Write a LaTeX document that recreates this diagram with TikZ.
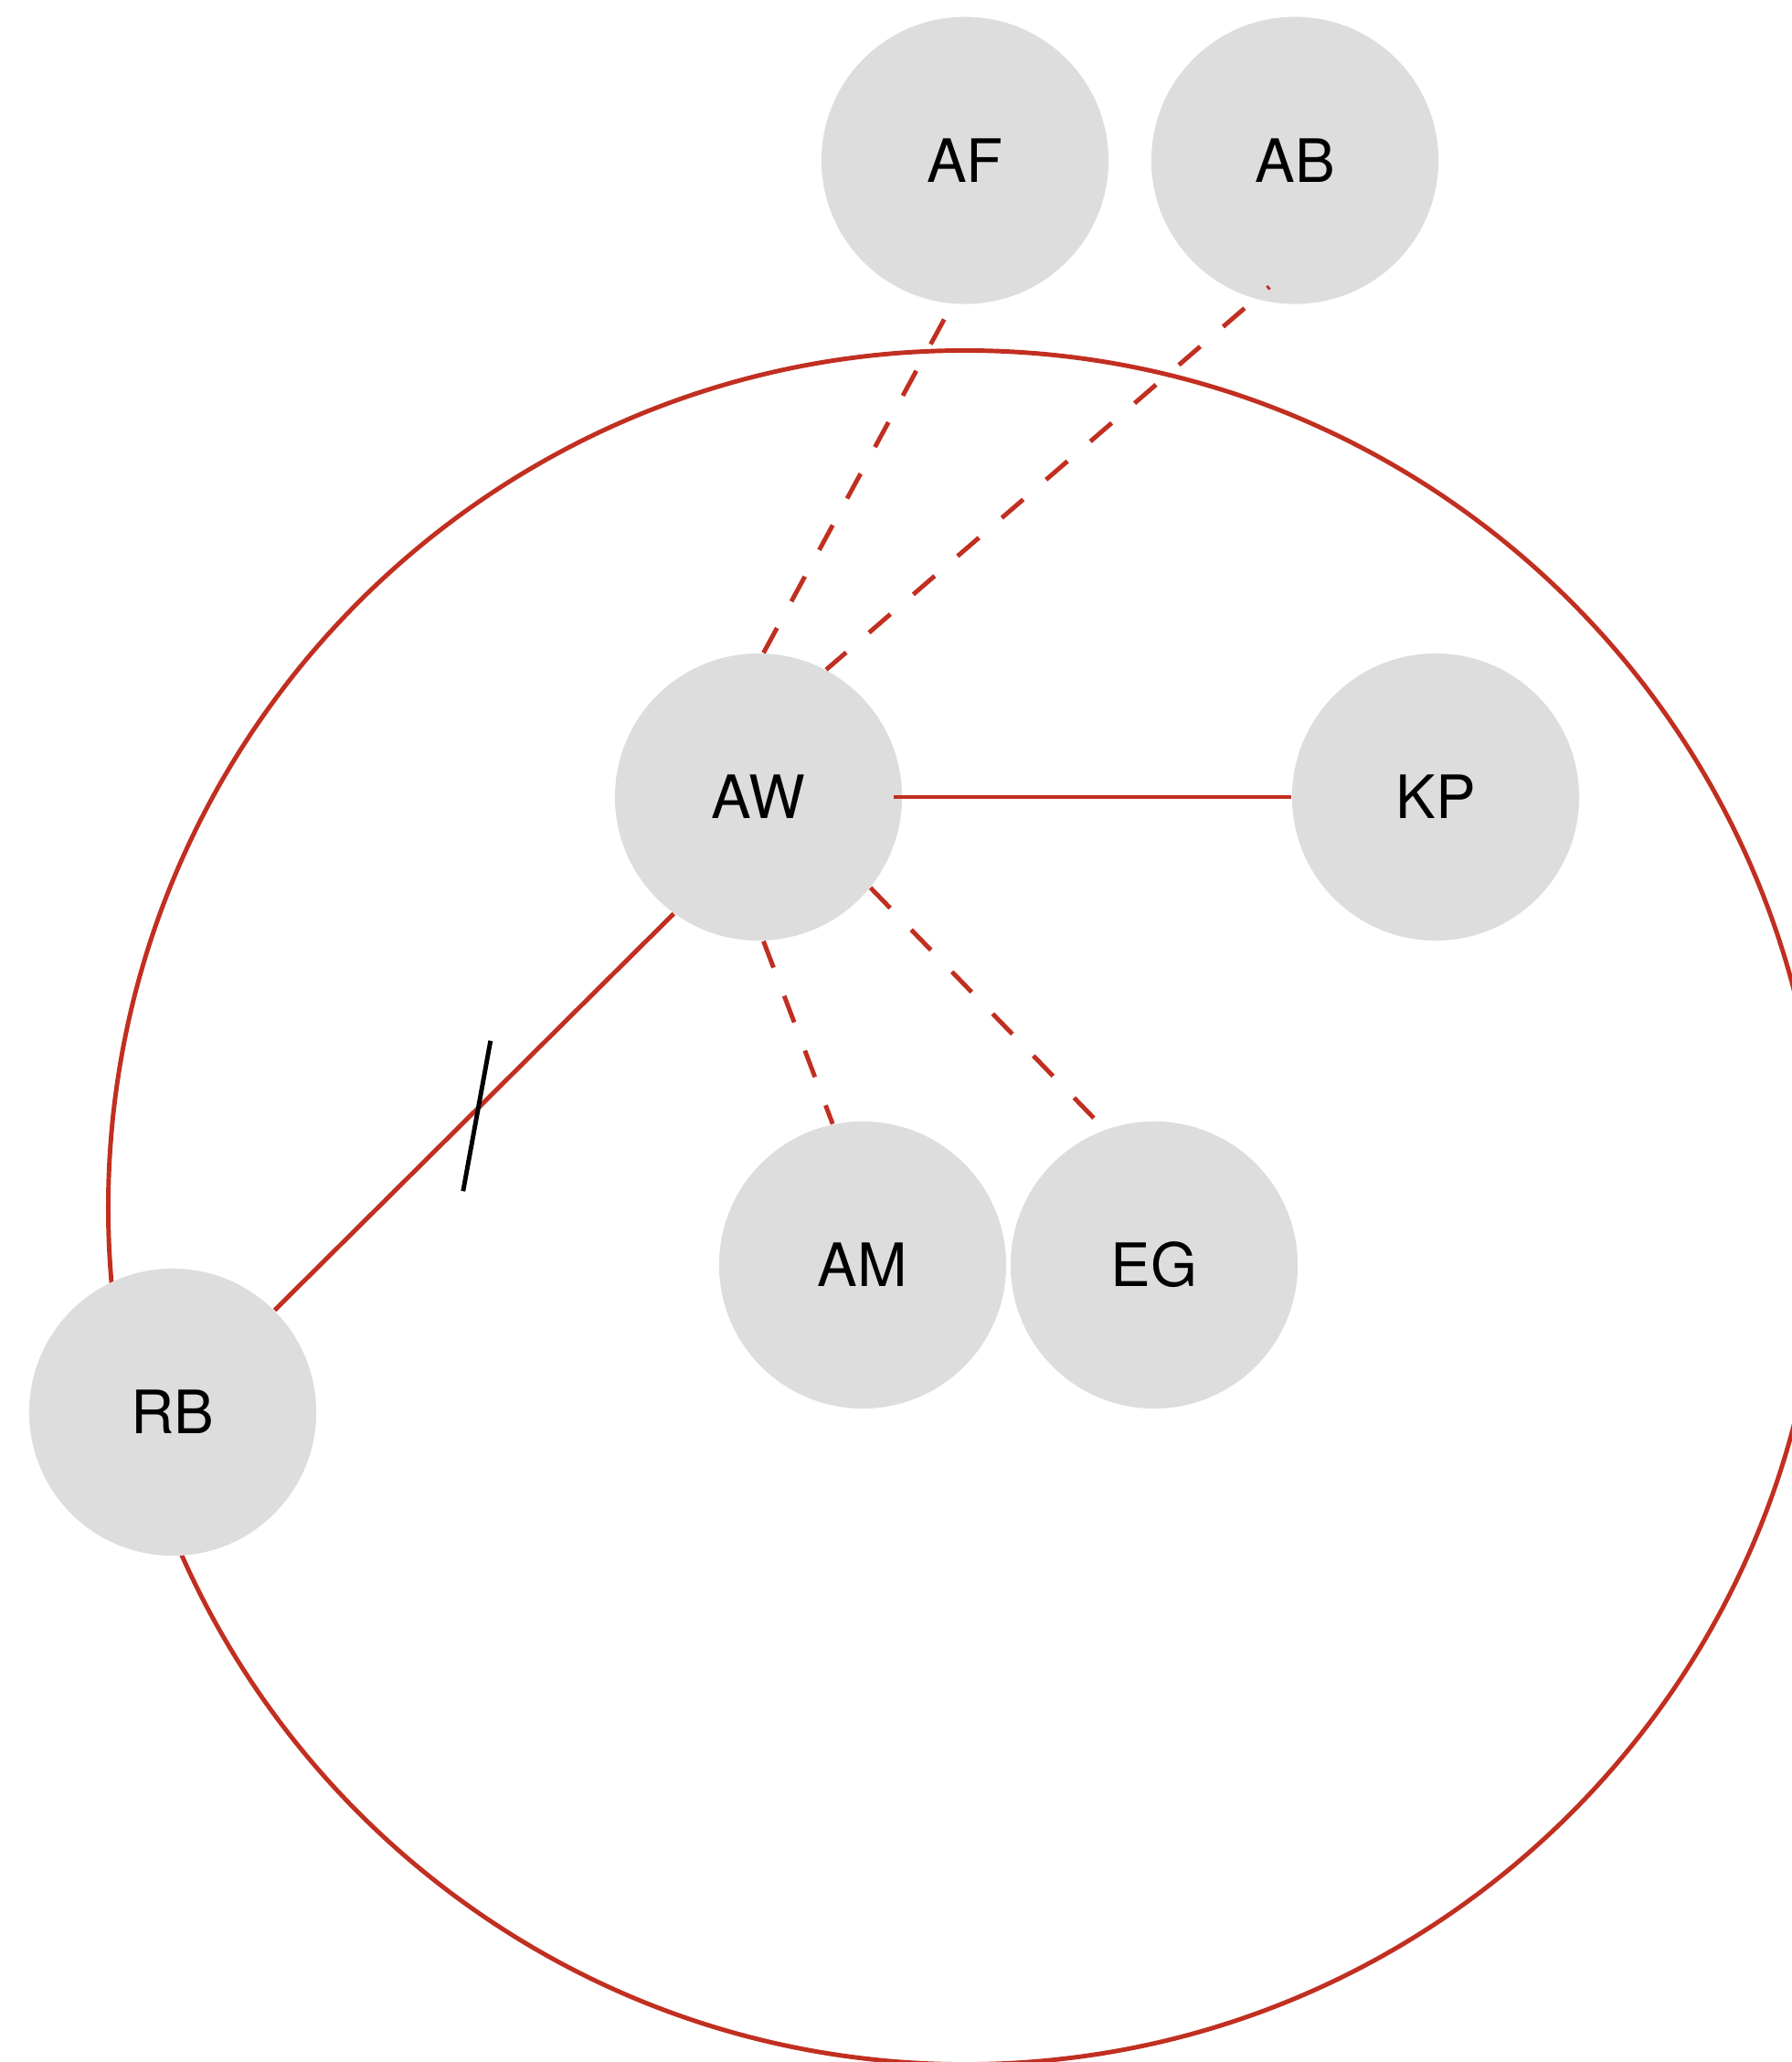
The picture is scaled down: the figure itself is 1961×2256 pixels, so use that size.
\documentclass[tikz,border=0pt]{standalone}
\usepackage{fontspec}
\setmainfont{TeX Gyre Heros}
\usetikzlibrary{calc}
\definecolor{nodegray}{RGB}{221,221,221}
\definecolor{linkred}{RGB}{193,47,33}
\begin{document}
\begin{tikzpicture}[x=0.01cm,y=-0.01cm,
  person/.style={circle, fill=nodegray, draw=none, minimum size=3.14cm, inner sep=0pt, font=\fontsize{18.6}{22}\selectfont},
  tie/.style={draw=linkred, line width=1.4pt},
  weaktie/.style={tie, dash pattern=on 8.8pt off 9.4pt},
  hatch/.style={draw=black, line width=1.4pt}]
\useasboundingbox (0,0) rectangle (1961,2256);
\clip (0,0) rectangle (1961,2256);
\draw[tie] (1056,1321) circle[radius=9.37cm];
\node[person] (AF) at (1056,175.5) {AF};
\node[person] (AB) at (1417,175.5) {AB};
\node[person] (AW) at (830,872) {AW};
\node[person] (KP) at (1571,872) {KP};
\node[person] (AM) at (944,1384) {AM};
\node[person] (EG) at (1263,1384) {EG};
\node[person] (RB) at (189,1545) {RB};
\draw[weaktie, shorten <=0.19cm] (AF.265) -- (AW.88);
\draw[weaktie, dash phase=8pt, shorten <=-0.205cm] (AB.254) -- (AW.62);
\draw[tie, shorten <=-0.1cm] (AW.0) -- (KP.180);
\draw[weaktie] (AW.272) -- (AM.102);
\draw[weaktie] (AW.321) -- (EG.110);
\draw[tie] (RB.45) -- coordinate[pos=0.51] (tk) (AW.234);
\draw[hatch] ($(tk)+(13.5,-73.5)$) -- ($(tk)+(-16.5,91)$);
\end{tikzpicture}
\end{document}
